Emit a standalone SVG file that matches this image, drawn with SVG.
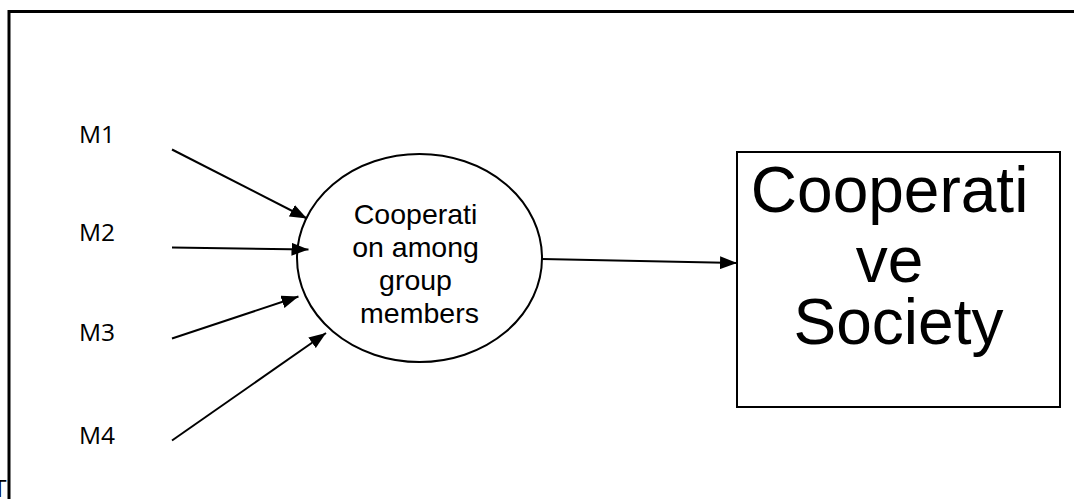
<svg xmlns="http://www.w3.org/2000/svg" width="1074" height="499" viewBox="0 0 1074 499">
  <style>
    .frame { fill: none; stroke: #000; stroke-width: 3; }
    .edge { fill: none; stroke: #000; stroke-width: 2; }
    .shape { fill: #fff; stroke: #000; stroke-width: 2; }
    .lbl { font-family: "Open Sans", "Noto Sans", sans-serif; font-size: 24.5px; fill: #000; }
    .node-txt { font-family: "Liberation Sans", Arial, sans-serif; fill: #000; text-anchor: middle; }
  </style>
  <defs>
    <marker id="arrow" viewBox="0 0 17 13" refX="17" refY="6.5" markerWidth="17" markerHeight="13" markerUnits="userSpaceOnUse" orient="auto">
      <path d="M0,0 L17,6.5 L0,13 Z" fill="#000"/>
    </marker>
    <clipPath id="left-margin">
      <rect x="0" y="0" width="8" height="499"/>
    </clipPath>
  </defs>
  <rect width="1074" height="499" fill="#fff"/>

  <!-- page fragment left of the frame -->
  <text class="lbl" x="-7" y="497" font-size="19" clip-path="url(#left-margin)">Th</text>

  <!-- outer frame: top and left rules -->
  <path class="frame" d="M9,499 V11.5 H1074"/>

  <!-- input labels -->
  <g id="m1"><text class="lbl" x="79" y="143">M1</text></g>
  <g id="m2"><text class="lbl" x="79" y="241">M2</text></g>
  <g id="m3"><text class="lbl" x="79" y="341">M3</text></g>
  <g id="m4"><text class="lbl" x="79" y="444">M4</text></g>

  <!-- central ellipse -->
  <g id="cooperation">
    <ellipse class="shape" cx="419.5" cy="258" rx="122.5" ry="104"/>
    <text class="node-txt" font-size="28.5">
      <tspan x="419.5" y="224">Cooperati</tspan>
      <tspan x="419.5" y="257">on among</tspan>
      <tspan x="419.5" y="290">group</tspan>
      <tspan x="419.5" y="323">members</tspan>
    </text>
  </g>

  <!-- target box -->
  <g id="society">
    <rect class="shape" x="737" y="152" width="323" height="255"/>
    <text class="node-txt" font-size="64">
      <tspan x="898.5" y="212">Cooperati</tspan>
      <tspan x="898.5" y="282">ve</tspan>
      <tspan x="898.5" y="344">Society</tspan>
    </text>
  </g>

  <!-- connectors -->
  <g id="connectors">
    <line class="edge" x1="172" y1="149.5" x2="307" y2="218.5" marker-end="url(#arrow)"/>
    <line class="edge" x1="172" y1="247.5" x2="308.5" y2="249.5" marker-end="url(#arrow)"/>
    <line class="edge" x1="172" y1="338.5" x2="298.5" y2="296.5" marker-end="url(#arrow)"/>
    <line class="edge" x1="172" y1="440.5" x2="326" y2="333" marker-end="url(#arrow)"/>
    <line class="edge" x1="542" y1="259" x2="737" y2="263" marker-end="url(#arrow)"/>
  </g>
</svg>
